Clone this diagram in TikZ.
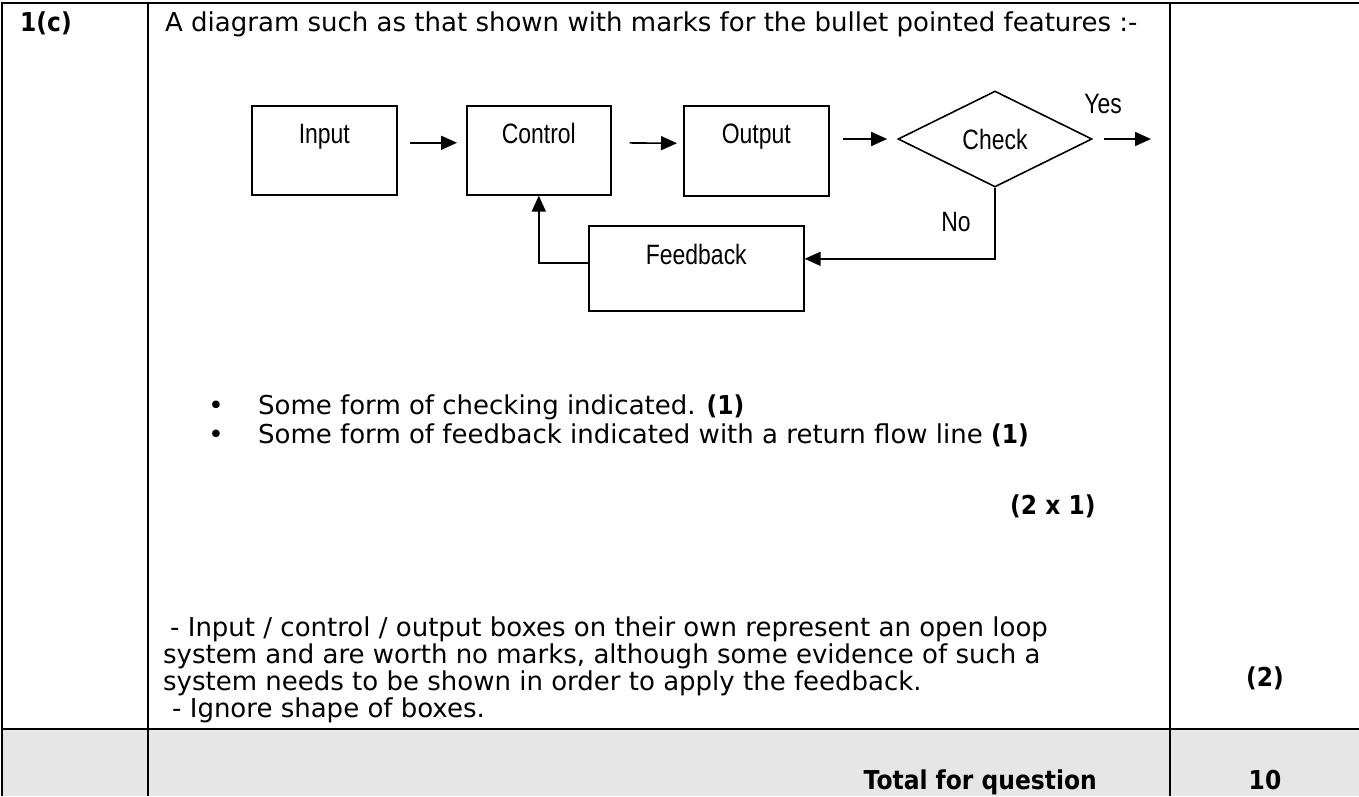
\documentclass[tikz,border=0pt]{standalone}
\usepackage{fontspec}
\setmainfont{DejaVu Sans}[BoldFeatures={FakeStretch=0.9}]
\newfontfamily\diafont[FakeStretch=0.82]{Liberation Sans}
\usetikzlibrary{arrows.meta,shapes.geometric}
\definecolor{rowgray}{RGB}{230,230,230}
\begin{document}
\begin{tikzpicture}[x=1pt,y=-1pt,
  txt/.style={inner sep=0pt, anchor=base west, font=\fontsize{26pt}{30pt}\selectfont},
  diatxt/.style={inner sep=0pt, font=\diafont\fontsize{28pt}{32pt}\selectfont},
  box/.style={draw, line width=1.6pt, inner sep=0pt, anchor=north west,
    font=\diafont\fontsize{28pt}{32pt}\selectfont},
  decision/.style={diamond, draw, line width=1.6pt, inner sep=0pt,
    minimum width=194pt, minimum height=96pt,
    font=\diafont\fontsize{28pt}{32pt}\selectfont},
  arr/.style={line width=1.6pt, -{Triangle[length=16pt,width=14pt]}},
  tbl/.style={line width=2pt}]
\useasboundingbox (0,0) rectangle (1359,796);
% table
\fill[rowgray] (2,729) rectangle (1359,796);
\draw[tbl] (2,796) -- (2,3) -- (1359,3);
\draw[tbl] (148,3) -- (148,796);
\draw[tbl] (1170,3) -- (1170,796);
\draw[tbl] (2,729) -- (1359,729);
% header texts
\node[txt] (qn) at (20,31) {\bfseries 1(c)};
\node[txt] (intro) at (165,31) {A diagram such as that shown with marks for the bullet pointed features :-};
% diagram
\node[box, minimum width=145pt, text height=38pt, text depth=51pt] (in) at (251,105) {Input};
\node[box, minimum width=144pt, text height=38pt, text depth=51pt] (ctrl) at (466,105) {Control};
\node[box, minimum width=145pt, text height=38pt, text depth=52pt] (out) at (683,105) {Output};
\node[decision] (chk) at (995,139) {Check};
\node[box, minimum width=215pt, text height=39pt, text depth=46pt] (fb) at (588,225) {Feedback};
\coordinate (yesend) at (1151,139);
\node[diatxt] (yes) at (1103,104) {Yes};
\node[diatxt] (no) at (956,222) {No};
\draw[arr, shorten <=12pt, shorten >=9pt] ([yshift=7.5pt]in.east) -- ([yshift=7.5pt]ctrl.west);
\draw[arr, shorten <=18pt, shorten >=6pt] ([yshift=7.5pt]ctrl.east) -- ([yshift=7.5pt]out.west);
\draw[arr, shorten <=13pt, shorten >=10pt] (out.east |- chk.west) -- (chk.west);
\draw[arr, shorten <=11pt] (chk.east) -- (yesend);
\draw[arr] (chk.south) |- ([yshift=9.5pt]fb.east);
\draw[arr] ([yshift=5.5pt]fb.west) -| (ctrl.south);
% bullets
\node[txt, anchor=base] (d1) at (216,414) {•};
\node[txt] (b1) at (258,414) {Some form of checking indicated. \textbf{(1)}};
\node[txt, anchor=base] (d2) at (216,443) {•};
\node[txt] (b2) at (258,443) {Some form of feedback indicated with a return flow line \textbf{(1)}};
\node[txt] (mk) at (1010,514) {\bfseries (2 x 1)};
% notes
\node[txt] (n1) at (170,636) {- Input / control / output boxes on their own represent an open loop};
\node[txt] (n2) at (163,663) {system and are worth no marks, although some evidence of such a};
\node[txt] (n3) at (163,690) {system needs to be shown in order to apply the feedback.};
\node[txt] (n4) at (172,717) {- Ignore shape of boxes.};
\node[txt, anchor=base] (m2) at (1265,686) {\bfseries (2)};
% total row
\node[txt, anchor=base east] (tot) at (1097,789) {\bfseries Total for question};
\node[txt, anchor=base] (ten) at (1265,789) {\bfseries 10};
\end{tikzpicture}
\end{document}
